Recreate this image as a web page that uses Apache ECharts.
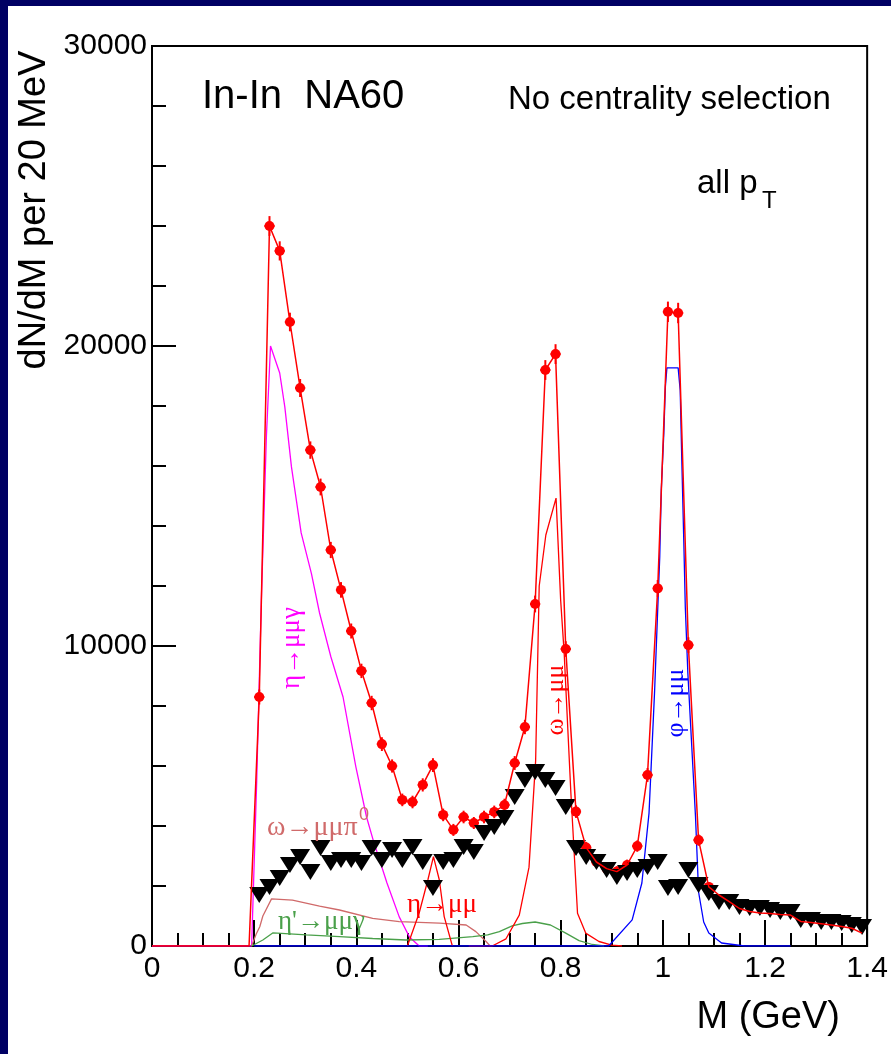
<!DOCTYPE html>
<html><head><meta charset="utf-8">
<script src="https://cdn.jsdelivr.net/npm/echarts@6.0.0/dist/echarts.min.js"></script>
<style>
html,body{margin:0;padding:0;background:#fff;}
#c{position:absolute;left:0;top:0;width:891px;height:1054px;}
.nv{position:absolute;background:#000064;}
</style></head>
<body>
<div id="c"></div>
<div class="nv" style="left:0;top:0;width:891px;height:6px"></div>
<div class="nv" style="left:0;top:0;width:8px;height:1054px"></div>
<script>
// ---- data ----
const binM = [0.21,0.23,0.25,0.27,0.29,0.31,0.33,0.35,0.37,0.39,0.41,0.43,0.45,0.47,0.49,0.51,0.53,0.55,0.57,0.59,
              0.61,0.63,0.65,0.67,0.69,0.71,0.73,0.75,0.77,0.79,0.81,0.83,0.85,0.87,0.89,0.91,0.93,0.95,0.97,0.99,
              1.01,1.03,1.05,1.07,1.09,1.11,1.13,1.15,1.17,1.19,1.21,1.23,1.25,1.27,1.29,1.31,1.33,1.35,1.37,1.39];
const dataN = [8300,24000,23170,20800,18600,16530,15300,13200,11870,10500,9170,8100,6730,6000,4870,4800,5370,6030,4370,3870,
               4300,4100,4300,4470,4700,6100,7300,11400,19200,19730,9900,4480,3280,2800,2580,2480,2700,3330,5700,11920,
               21140,21100,10030,3530,1970,1700,1480,1250,1150,1100,1080,1050,1030,820,780,740,700,650,590,430];
const dataErr = [250,330,320,310,300,290,280,270,260,250,240,240,230,220,210,210,220,230,210,200,
                 210,200,210,210,210,230,240,280,330,330,260,210,190,180,180,180,180,190,230,280,
                 340,340,260,190,160,140,130,120,120,120,110,110,110,100,100,100,100,90,90,80];
const dataLeadM = [0.0, 0.19];
const dataLeadN = [0, 0];
const markerCount = 45; // data markers visible up to 1.09 GeV
const excessN = [1700,1970,2270,2700,2970,2470,3270,2770,2870,2870,2770,3270,2870,3200,2870,3300,2800,1930,2800,2870,
                 3300,3130,3770,3970,4270,4970,5530,5800,5530,5270,4630,3270,2970,2800,2530,2300,2430,2530,2630,2800,
                 1930,1970,2530,2030,1770,1470,1470,1300,1270,1270,1200,1130,1130,870,870,800,800,770,700,630];

// cocktail components
const etaDalM = [0,0.19,0.195,0.205,0.214,0.224,0.232,0.25,0.26,0.273,0.292,0.312,0.328,0.35,0.374,0.399,0.42,0.433,0.46,0.484,0.504,0.523,0.54];
const etaDalN = [0,0,0,5500,11500,17000,20000,19100,17970,15970,13770,12420,11100,9650,8300,5980,4300,3530,2100,970,300,0,0];
const omDalM = [0.195,0.204,0.211,0.217,0.234,0.275,0.328,0.367,0.432,0.484,0.5625,0.615,0.634,0.654,0.662];
const omDalN = [0,400,640,1000,1570,1530,1330,1200,920,810,760,700,480,150,0];
const etapM = [0.195,0.217,0.237,0.302,0.367,0.432,0.497,0.5625,0.628,0.657,0.68,0.705,0.725,0.75,0.78,0.81,0.836,0.862,0.885];
const etapN = [0,200,440,370,310,250,200,220,310,370,480,670,750,800,700,430,180,50,0];
const etaMuM = [0.50,0.523,0.54,0.551,0.5625,0.572,0.588];
const etaMuN = [0,1100,2200,2980,2200,980,0];
const omegaM = [0.62,0.666,0.693,0.719,0.738,0.751,0.758,0.771,0.791,0.80,0.807,0.82,0.833,0.849,0.875,0.90,0.92];
const omegaN = [0,0,240,1030,2620,6170,12000,13700,14930,11530,9730,5100,1090,430,150,30,0];
const phiM = [0.2,0.894,0.94,0.959,0.973,0.984,0.989,0.994,0.997,1.002,1.005,1.008,1.03,1.034,1.037,1.041,1.044,1.049,1.054,1.064,1.07,1.08,1.09,1.115,1.16,1.25];
const phiN = [0,0,870,2100,4430,8530,10770,12980,15200,17100,18640,19270,19270,18530,16300,13530,11300,9100,7500,4300,1800,800,430,100,0,0];

const xTickLabels = ['0','0.2','0.4','0.6','0.8','1','1.2','1.4'];
const yTickLabels = ['0','10000','20000','30000'];

// ---- build ----
function zip(a,b){ return a.map((v,i)=>[v,b[i]]); }
const dataPts = binM.map((m,i)=>[m,dataN[i],dataErr[i]]);
const markerPts = dataPts.slice(0, markerCount);
const dataLine = zip(dataLeadM, dataLeadN).concat(zip(binM, dataN));
const excessPts = zip(binM, excessN);

function comp(name, m, n, color){
  return {name:name, type:'line', data:zip(m,n), showSymbol:false, symbol:'none', silent:true,
          lineStyle:{color:color, width:1.3}, z:2, animation:false};
}

const chart = echarts.init(document.getElementById('c'), null, {renderer:'canvas'});
const sans = '"Liberation Sans", Arial, sans-serif';
const serif = '"Liberation Serif", "DejaVu Serif", serif';

function txt(x, y, s, size, color, family, align, rot){
  return {type:'text', x:x, y:y, rotation:rot||0, silent:true, z:100,
    style:{text:s, fill:color, font:size+'px '+family, align:align||'left', verticalAlign:'middle',
           textAlign:align||'left', textVerticalAlign:'middle'}};
}

chart.setOption({
  backgroundColor:'#ffffff',
  animation:false,
  grid:{left:152, top:46, right:22, bottom:108, show:true, borderColor:'#000', borderWidth:2, backgroundColor:'transparent'},
  xAxis:{type:'value', min:0, max:1.4, interval:0.2,
    axisLine:{show:true, lineStyle:{color:'#000', width:2}},
    axisTick:{show:true, inside:true, length:26, lineStyle:{color:'#000', width:2}},
    minorTick:{show:true, splitNumber:4, length:13, lineStyle:{color:'#000', width:2}},
    splitLine:{show:false}, minorSplitLine:{show:false},
    axisLabel:{fontSize:30, fontFamily:sans, color:'#000', margin:8,
      formatter:function(v){ return xTickLabels[Math.round(v/0.2)]; }}
  },
  yAxis:{type:'value', min:0, max:30000, interval:10000,
    axisLine:{show:true, lineStyle:{color:'#000', width:2}},
    axisTick:{show:true, inside:true, length:24, lineStyle:{color:'#000', width:2}},
    minorTick:{show:true, splitNumber:5, length:14, lineStyle:{color:'#000', width:2}},
    splitLine:{show:false}, minorSplitLine:{show:false},
    axisLabel:{fontSize:30, fontFamily:sans, color:'#000', margin:5, padding:[8,0,0,0],
      formatter:function(v){ return yTickLabels[Math.round(v/10000)]; }}
  },
  series:[
    comp('eta Dalitz', etaDalM, etaDalN, '#ff00ff'),
    comp('omega Dalitz', omDalM, omDalN, '#d06a6a'),
    comp('etap Dalitz', etapM, etapN, '#4aa04a'),
    comp('eta mumu', etaMuM, etaMuN, '#ff0000'),
    comp('omega mumu', omegaM, omegaN, '#ff0000'),
    comp('phi mumu', phiM, phiN, '#0000ff'),
    {name:'errors', type:'custom', data:markerPts, z:3, silent:true,
      encode:{x:0, y:1},
      renderItem:function(params, api){
        const x = api.value(0), y = api.value(1), e = api.value(2);
        const t = api.coord([x, y+e]), b = api.coord([x, y-e]);
        const l = api.coord([x-0.01, y]), r = api.coord([x+0.01, y]);
        return {type:'group', children:[
          {type:'line', shape:{x1:t[0],y1:t[1],x2:b[0],y2:b[1]}, style:{stroke:'#ff0000', lineWidth:2}},
          {type:'line', shape:{x1:l[0],y1:l[1],x2:r[0],y2:r[1]}, style:{stroke:'#ff0000', lineWidth:2}}
        ]};
      }},
    {name:'data', type:'scatter', data:markerPts.map(p=>[p[0],p[1]]), symbol:'circle', symbolSize:10,
      itemStyle:{color:'#ff0000', opacity:1}, z:3, silent:true},
    {name:'excess', type:'scatter', data:excessPts, symbol:'triangle', symbolRotate:180, symbolSize:[20,16],
      itemStyle:{color:'#000000', opacity:1}, z:4, silent:true},
    {name:'data line', type:'line', data:dataLine, showSymbol:false, symbol:'none', silent:true,
      lineStyle:{color:'#ff0000', width:1.5}, z:5}
  ],
  graphic:[
    txt(35, 210, 'dN/dM per 20 MeV', 38, '#000', sans, 'center', Math.PI/2),
    txt(840, 1018, 'M (GeV)', 38, '#000', sans, 'right'),
    txt(202, 97, 'In-In  NA60', 40, '#000', sans, 'left'),
    txt(508, 100, 'No centrality selection', 33, '#000', sans, 'left'),
    txt(697, 184, 'all p', 33, '#000', sans, 'left'),
    txt(762, 201, 'T', 24, '#000', sans, 'left'),
    txt(292, 648, 'η→μμγ', 27, '#ff00ff', serif, 'center', Math.PI/2),
    txt(556, 700, 'ω→μμ', 26, '#ff0000', serif, 'center', Math.PI/2),
    txt(676, 703, 'φ→μμ', 26, '#0000ff', serif, 'center', Math.PI/2),
    txt(267, 828, 'ω→μμπ', 28, '#d06a6a', serif, 'left'),
    txt(359, 815, '0', 18, '#d06a6a', sans, 'left'),
    txt(278, 922, "η'→μμγ", 27, '#4aa04a', serif, 'left'),
    txt(407, 905, 'η→μμ', 27, '#ff0000', serif, 'left')
  ]
});
</script>
</body></html>
